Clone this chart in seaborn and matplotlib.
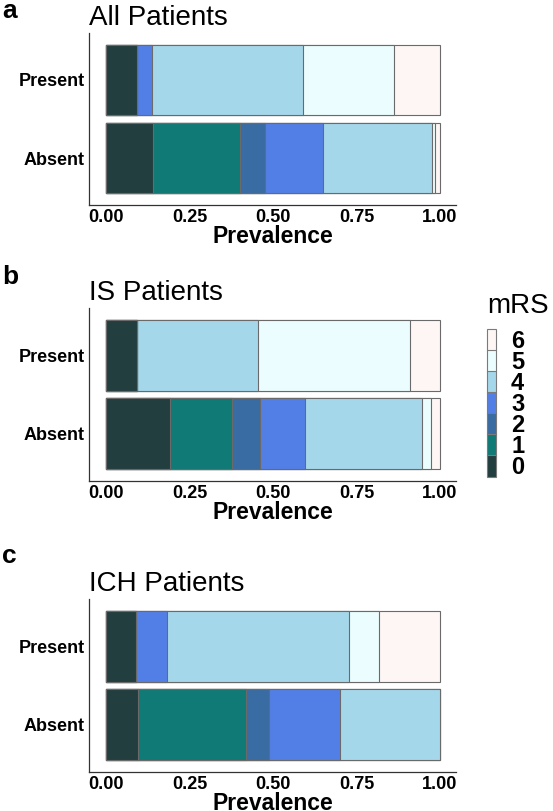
import numpy as np
import pandas as pd
import seaborn as sns
import matplotlib.pyplot as plt
from matplotlib.patches import Patch

# mRS distribution (proportion per score 0..6) by group
groups = ["Present", "Absent"]
mrs_levels = ["0", "1", "2", "3", "4", "5", "6"]

all_present = [0.092, 0.000, 0.000, 0.046, 0.452, 0.273, 0.137]
all_absent = [0.140, 0.262, 0.074, 0.175, 0.324, 0.011, 0.014]

is_present = [0.092, 0.000, 0.000, 0.000, 0.364, 0.453, 0.091]
is_absent = [0.190, 0.188, 0.082, 0.135, 0.351, 0.027, 0.027]

ich_present = [0.091, 0.000, 0.000, 0.091, 0.545, 0.091, 0.182]
ich_absent = [0.095, 0.325, 0.069, 0.210, 0.301, 0.000, 0.000]

panel_titles = ["All Patients", "IS Patients", "ICH Patients"]
panel_letters = ["a", "b", "c"]
x_ticks = [0.0, 0.25, 0.5, 0.75, 1.0]

colors = ["#233e3f", "#107a76", "#3a6ca4", "#527fe6", "#a5d7ea", "#ebfdfe", "#fdf6f5"]
edge = "#6a6a6a"

sns.set_theme(style="white")
plt.rcParams["font.family"] = ["Liberation Sans", "DejaVu Sans"]
plt.rcParams["text.color"] = "black"

fig = plt.figure(figsize=(5.53, 8.11), dpi=100)

# axes boxes in figure fractions [left, bottom, width, height]
boxes = [
    [0.161, 0.7472, 0.6637, 0.2121],
    [0.161, 0.4069, 0.6637, 0.2133],
    [0.161, 0.0481, 0.6637, 0.2133],
]
letter_base = [1 - 18 / 811, 1 - 284 / 811, 1 - 563 / 811]

panels = [
    (all_present, all_absent),
    (is_present, is_absent),
    (ich_present, ich_absent),
]

for i, (pres, absn) in enumerate(panels):
    ax = fig.add_axes(boxes[i])
    df = pd.DataFrame({"Present": pres, "Absent": absn}, index=mrs_levels)
    cum = df.cumsum()
    # draw cumulative bars from highest score down so lower scores sit on top
    for k in range(len(mrs_levels) - 1, -1, -1):
        d = pd.DataFrame({"group": groups, "value": cum.iloc[k][groups].values})
        sns.barplot(data=d, x="value", y="group", order=groups, orient="h",
                    color=colors[k], width=0.9, edgecolor=edge, linewidth=0.8,
                    saturation=1, ax=ax, errorbar=None)
    ax.set_xlim(-0.051, 1.048)
    ax.set_ylim(1.6, -0.6)
    ax.set_xticks(x_ticks)
    ax.set_xticklabels(["%.2f" % t for t in x_ticks])
    ax.tick_params(axis="both", length=0, pad=3, labelcolor="black")
    for lab in ax.get_xticklabels():
        lab.set_fontweight("bold")
        lab.set_fontsize(13)
    for lab in ax.get_yticklabels():
        lab.set_fontweight("bold")
        lab.set_fontsize(13)
    ax.set_ylabel("")
    ax.set_xlabel("Prevalence", fontsize=16.5, fontweight="bold", labelpad=-0.5,
                  color="black")
    ax.set_title(panel_titles[i], loc="left", fontsize=20, pad=6, color="black")
    sns.despine(ax=ax)
    for s in ["left", "bottom"]:
        ax.spines[s].set_color("#333333")
        ax.spines[s].set_linewidth(0.9)
    fig.text(0.004, letter_base[i], panel_letters[i], fontsize=19, fontweight="bold",
             va="baseline", ha="left", color="black")

# legend (mRS 6 on top)
fig.text(487 / 553, 1 - 313 / 811, "mRS", fontsize=20, va="baseline", ha="left",
         color="black")
handles = [Patch(facecolor=colors[k], edgecolor="#7a7a7a", linewidth=0.8)
           for k in range(len(mrs_levels) - 1, -1, -1)]
labels = mrs_levels[::-1]
leg = fig.legend(handles, labels, loc="upper left",
                 bbox_to_anchor=(487 / 553, 1 - 329 / 811),
                 frameon=False, fontsize=17, labelspacing=-0.13,
                 handlelength=0.38, handleheight=1.06, handletextpad=0.64,
                 borderpad=0, borderaxespad=0)
for t in leg.get_texts():
    t.set_fontweight("bold")
    t.set_color("black")

fig.savefig("out.png", dpi=100)
